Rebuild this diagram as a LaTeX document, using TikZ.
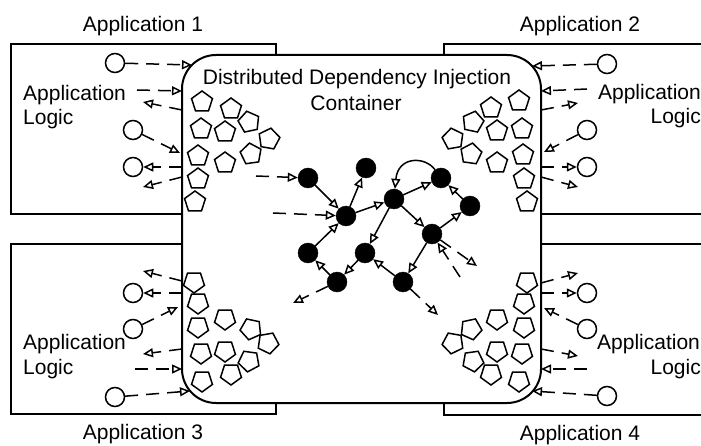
\documentclass[tikz,border=0pt]{standalone}
\usepackage{fontspec}
\setmainfont{Liberation Sans}
\usetikzlibrary{arrows.meta,shapes.geometric}
\tikzset{
  appbox/.style={draw, line width=2pt, inner sep=0pt, minimum width=265pt, minimum height=170pt},
  ddibox/.style={draw, fill=white, line width=2pt, rounded corners=34pt, inner sep=0pt,
                 minimum width=359pt, minimum height=348pt},
  lbl/.style={font=\fontsize{21}{25}\selectfont, inner sep=0pt},
  port/.style={circle, draw, line width=1.5pt, minimum size=19pt, inner sep=0pt, fill=white},
  bean/.style={circle, draw=black, fill=black, minimum size=20pt, inner sep=0pt},
  comp/.style={regular polygon, regular polygon sides=5, draw, line width=1.5pt,
               minimum size=22pt, inner sep=0pt},
  link/.style={line width=1.5pt, -{Triangle[open,length=10pt,width=9pt]}},
  call/.style={link, dash pattern=on 13pt off 8pt},
}
\begin{document}
\begin{tikzpicture}[x=1pt,y=-1pt]
\useasboundingbox (0,0) rectangle (701,446);
\clip (0,0) rectangle (701,446);

% application boxes
\node[appbox] (box1) at (143.5,129) {};
\node[appbox] (box2) at (576,129) {};
\node[appbox] (box3) at (143.5,329) {};
\node[appbox] (box4) at (576,329.5) {};

% container
\node[ddibox] (ddi) at (361.5,229) {};
\node[lbl, anchor=base] (ttl1) at (357,85) {Distributed Dependency Injection};
\node[lbl, anchor=base] (ttl2) at (356,111) {Container};

% application titles
\node[lbl, anchor=base] (t1) at (143,32) {Application 1};
\node[lbl, anchor=base] (t2) at (580,32) {Application 2};
\node[lbl, anchor=base] (t3) at (143,439) {Application 3};
\node[lbl, anchor=base] (t4) at (580,440) {Application 4};

% application logic labels
\node[lbl, anchor=base west] (al1) at (23,101) {Application};
\node[lbl, anchor=base west] (lg1) at (23,125) {Logic};
\node[lbl, anchor=base east] (al2) at (701,100) {Application};
\node[lbl, anchor=base east] (lg2) at (701,124) {Logic};
\node[lbl, anchor=base west] (al3) at (23,349) {Application};
\node[lbl, anchor=base west] (lg3) at (23,374) {Logic};
\node[lbl, anchor=base west] (al4) at (597,349) {Application};
\node[lbl, anchor=base east] (lg4) at (701,374) {Logic};

% components inside the container
\foreach \x/\y/\r [count=\i] in {202/102/0,231/109/0,249/122/12,201/129/0,225/132/0,269/139/-10,
    198/156/0,225/163/0,251/154/8,198/179/0,195/202/0}
  \node[comp, rotate=\r] (pa-\i) at (\x,\y) {};
\foreach \x/\y/\r [count=\i] in {519/101/0,491/108/0,473/122/-12,453/139/10,497/131/0,522/129/0,
    471/154/-8,497/163/0,523/155/0,524/179/0,527/202/0}
  \node[comp, rotate=\r] (pb-\i) at (\x,\y) {};
\foreach \x/\y/\r [count=\i] in {194/282/180,198/303/180,198/327/180,225/319/180,251/329/168,
    268/343/190,201/353/180,225/351/180,249/361/172,231/374/180,202/381/180}
  \node[comp, rotate=\r] (pc-\i) at (\x,\y) {};
\foreach \x/\y/\r [count=\i] in {527/282/180,524/303/180,524/327/180,497/319/180,471/329/192,
    453/343/170,522/353/180,497/351/180,473/361/188,491/374/180,519/381/180}
  \node[comp, rotate=\r] (pd-\i) at (\x,\y) {};

% ports of the applications
\node[port] (c1a) at (115,63) {};
\node[port] (c1b) at (133,130) {};
\node[port] (c1c) at (133,167) {};
\node[port] (c2a) at (607,64) {};
\node[port] (c2b) at (587,130) {};
\node[port] (c2c) at (587,167) {};
\node[port] (c3a) at (133,293) {};
\node[port] (c3b) at (133,329) {};
\node[port] (c3c) at (115,397) {};
\node[port] (c4a) at (587,293) {};
\node[port] (c4b) at (587,329) {};
\node[port] (c4c) at (607,396) {};

% end points of the calls
\coordinate (e1a) at (192,65);
\coordinate (s1b) at (137,90);   \coordinate (e1b) at (182,91);
\coordinate (s1c) at (182,110);  \coordinate (e1c) at (143,102);
\coordinate (e1d) at (180,153);
\coordinate (s1e) at (182,167);
\coordinate (s1f) at (182,177);  \coordinate (e1f) at (143,187);

\coordinate (e2a) at (532,66);
\coordinate (s2b) at (587,89);   \coordinate (e2b) at (541,91);
\coordinate (s2c) at (541,110);  \coordinate (e2c) at (578,103);
\coordinate (e2d) at (544,152);
\coordinate (s2e) at (541,167);
\coordinate (s2f) at (541,177);  \coordinate (e2f) at (578,187);

\coordinate (s3a) at (182,281);  \coordinate (e3a) at (143,271);
\coordinate (s3b) at (182,293);
\coordinate (e3c) at (178,307);
\coordinate (s3d) at (182,349);  \coordinate (e3d) at (143,354);
\coordinate (s3e) at (135,369);  \coordinate (e3e) at (182,369);
\coordinate (e3f) at (190,391);

\coordinate (s4a) at (541,283);  \coordinate (e4a) at (578,273);
\coordinate (s4b) at (541,293);
\coordinate (e4c) at (544,308);
\coordinate (s4d) at (541,349);  \coordinate (e4d) at (578,356);
\coordinate (s4e) at (587,369);  \coordinate (e4e) at (541,369);
\coordinate (e4f) at (532,391);

% calls between applications and container
\draw[call] (c1a) -- (e1a);
\draw[call] (s1b) -- (e1b);
\draw[call] (s1c) -- (e1c);
\draw[call] (c1b) -- (e1d);
\draw[call] (s1e) -- (c1c);
\draw[call] (s1f) -- (e1f);

\draw[call] (c2a) -- (e2a);
\draw[call] (s2b) -- (e2b);
\draw[call] (s2c) -- (e2c);
\draw[call] (c2b) -- (e2d);
\draw[call] (s2e) -- (c2c);
\draw[call] (s2f) -- (e2f);

\draw[call] (s3a) -- (e3a);
\draw[call] (s3b) -- (c3a);
\draw[call] (c3b) -- (e3c);
\draw[call] (s3d) -- (e3d);
\draw[call] (s3e) -- (e3e);
\draw[call] (c3c) -- (e3f);

\draw[call] (s4a) -- (e4a);
\draw[call] (s4b) -- (c4a);
\draw[call] (c4b) -- (e4c);
\draw[call] (s4d) -- (e4d);
\draw[call] (s4e) -- (e4e);
\draw[call] (c4c) -- (e4f);

% dependency graph
\node[bean] (n1) at (308,178) {};
\node[bean] (n2) at (366,168) {};
\node[bean] (n3) at (346,216) {};
\node[bean] (n4) at (394,199) {};
\node[bean] (n5) at (441,178) {};
\node[bean] (n6) at (470,206) {};
\node[bean] (n7) at (432,234) {};
\node[bean] (n8) at (308,253) {};
\node[bean] (n9) at (365,253) {};
\node[bean] (n10) at (337,282) {};
\node[bean] (n11) at (403,282) {};

\draw[link] (n1) -- (n3);
\draw[link] (n3) -- (n2);
\draw[link] (n8) -- (n3);
\draw[link] (n3) -- (n4);
\draw[link] (n4) -- (n5);
\draw[link] (n5) .. controls (425,156) and (398,156) .. (n4);
\draw[link] (n4) -- (n9);
\draw[link] (n4) -- (n7);
\draw[link] (n6) -- (n5);
\draw[link] (n7) -- (n6);
\draw[link] (n7) -- (n11);
\draw[link] (n11) -- (n9);
\draw[link] (n9) -- (n10);
\draw[link] (n10) -- (n8);

% requests reaching the graph
\coordinate (d1) at (256,176);
\coordinate (d2) at (273,213);
\coordinate (d3) at (293,303);
\coordinate (d4) at (438,315);
\coordinate (d5) at (460,277);
\coordinate (d6) at (477,266);
\draw[call] (d1) -- (n1);
\draw[call] (d2) -- (n3);
\draw[call] (n10) -- (d3);
\draw[call] (n11) -- (d4);
\draw[call] (d5) -- (n7);
\draw[call] (n7) -- (d6);
\end{tikzpicture}
\end{document}
